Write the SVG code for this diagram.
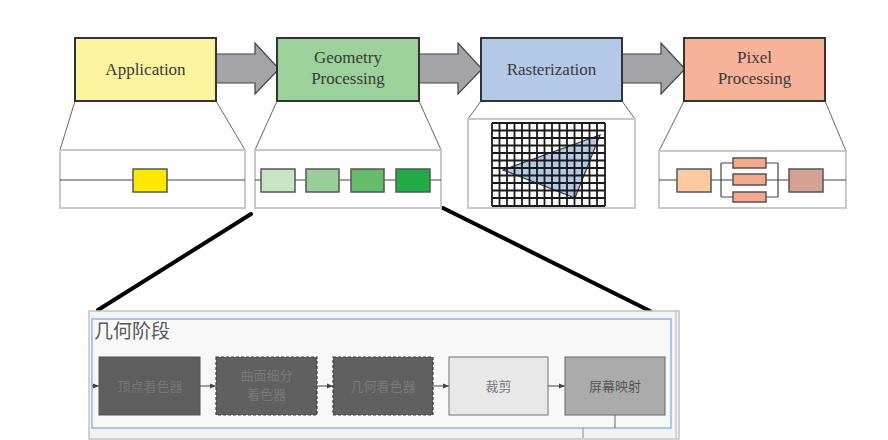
<svg xmlns="http://www.w3.org/2000/svg" width="888" height="440" viewBox="0 0 888 440">
<defs>
<style>
.stage{stroke:#333;stroke-width:2}
.lbl{font-family:"Liberation Serif","DejaVu Serif",serif;font-size:17px;fill:#3a3a3a;text-anchor:middle}
.trap{fill:#fff;stroke:#666;stroke-width:1}
.sub{fill:#fff;stroke:#c8c8c8;stroke-width:2}
.wire{stroke:#444;stroke-width:1.2;fill:none}
.blk{stroke:#555;stroke-width:1.5}
.big{fill:#a4a4a8;stroke:#444;stroke-width:1.2}
.zoom{stroke:#000;stroke-width:4;stroke-linecap:round}
.cn{font-family:"Noto Sans CJK SC","Noto Sans",sans-serif;font-size:13px;text-anchor:middle}
.gb{stroke:#555;stroke-width:1}
.ga{stroke:#444;stroke-width:1;fill:none}
</style>
<marker id="ah" viewBox="0 0 10 10" refX="10" refY="5" markerWidth="6" markerHeight="6" orient="auto"><path d="M0,1 L10,5 L0,9 z" fill="#444"/></marker>
</defs>
<rect width="888" height="440" fill="#fff"/>

<g id="connectors">
<path class="big" d="M216,54 H255 V43 L279,69 L255,94 V83 H216 Z"/>
<path class="big" d="M419,54 H458 V43 L482,69 L458,94 V83 H419 Z"/>
<path class="big" d="M622,54 H661 V43 L685,69 L661,94 V83 H622 Z"/>
<line class="zoom" x1="251" y1="214" x2="98" y2="310"/>
<line class="zoom" x1="443" y1="208" x2="650" y2="311"/>
</g>

<g id="application">
<path class="trap" d="M75,101 L60,150 H245 L216,101 Z"/>
<rect class="sub" x="60" y="150" width="185" height="58"/>
<line class="wire" x1="60" y1="180" x2="245" y2="180"/>
<rect class="blk" x="133" y="169" width="34" height="23" fill="#ffe800"/>
<rect class="stage" x="75" y="38" width="141" height="63" fill="#fdf4a0"/>
<text class="lbl" x="145.5" y="75">Application</text>
</g>

<g id="geometry">
<path class="trap" d="M277,101 L255,150 H441 L419,101 Z"/>
<rect class="sub" x="255" y="150" width="186" height="58"/>
<line class="wire" x1="255" y1="180" x2="441" y2="180"/>
<rect class="blk" x="261" y="169" width="34" height="23" fill="#c8e6c6"/>
<rect class="blk" x="306" y="169" width="33" height="23" fill="#98cf98"/>
<rect class="blk" x="351" y="169" width="33" height="23" fill="#66bb6a"/>
<rect class="blk" x="396" y="169" width="34" height="23" fill="#22ac48"/>
<rect class="stage" x="277" y="38" width="142" height="63" fill="#9dd19b"/>
<text class="lbl" x="348" y="63">Geometry</text>
<text class="lbl" x="348" y="84">Processing</text>
</g>

<g id="rasterization">
<path class="trap" d="M481,101 L468,119 H635 L622,101 Z"/>
<rect class="sub" x="468" y="119" width="167" height="89"/>
<polygon points="503,170 600,135 575,198" fill="#b4c8e8" stroke="#333" stroke-width="1.2"/>
<g stroke="#1a1a1a" stroke-width="1.8" fill="none">
<path d="M492,123 V206 M499.5,123 V206 M507,123 V206 M514.5,123 V206 M522,123 V206 M529.5,123 V206 M537,123 V206 M544.5,123 V206 M552,123 V206 M559.5,123 V206 M567,123 V206 M574.5,123 V206 M582,123 V206 M589.5,123 V206 M597,123 V206 M605,123 V206"/>
<path d="M492,123 H605 M492,130.5 H605 M492,138 H605 M492,145.5 H605 M492,153 H605 M492,160.5 H605 M492,168 H605 M492,175.5 H605 M492,183 H605 M492,190.5 H605 M492,198 H605 M492,206 H605"/>
</g>
<rect class="stage" x="481" y="38" width="141" height="63" fill="#b4c8e8"/>
<text class="lbl" x="551.5" y="75">Rasterization</text>
</g>

<g id="pixel">
<path class="trap" d="M684,101 L659,151 H846 L825,101 Z"/>
<rect class="sub" x="659" y="151" width="187" height="57"/>
<path class="wire" d="M659,180 H846 M721,163 V197 M778,163 V197 M721,163 H733 M721,197 H733 M766,163 H778 M766,197 H778"/>
<rect class="blk" x="677" y="169" width="34" height="23" fill="#fdc9a0"/>
<rect class="blk" x="733" y="158" width="33" height="10" fill="#f4a88c"/>
<rect class="blk" x="733" y="174" width="33" height="11" fill="#f4a88c"/>
<rect class="blk" x="733" y="192" width="33" height="10" fill="#f4a88c"/>
<rect class="blk" x="789" y="169" width="34" height="23" fill="#d4a292"/>
<rect class="stage" x="684" y="38" width="141" height="63" fill="#f7b29a"/>
<text class="lbl" x="754.5" y="63">Pixel</text>
<text class="lbl" x="754.5" y="84">Processing</text>
</g>

<g id="geometry-stage-detail">
<rect x="89" y="311" width="590" height="128" fill="#f3f3f3" stroke="#c4c4c4" stroke-width="1.5"/>
<line x1="676" y1="311" x2="676" y2="439" stroke="#b8b8b8" stroke-width="1"/>
<rect x="92" y="319" width="579" height="109" fill="#f8f8f8" stroke="#a9c8ef" stroke-width="2"/>
<text x="94" y="338" font-family="'Noto Sans CJK SC','Noto Sans',sans-serif" font-size="19" fill="#585858">几何阶段</text>
<line class="ga" x1="92" y1="386" x2="99" y2="386" marker-end="url(#ah)"/>
<line class="ga" x1="200" y1="386" x2="216" y2="386" marker-end="url(#ah)"/>
<line class="ga" x1="317" y1="386" x2="333" y2="386" marker-end="url(#ah)"/>
<line class="ga" x1="433" y1="386" x2="449" y2="386" marker-end="url(#ah)"/>
<line class="ga" x1="548" y1="386" x2="565" y2="386" marker-end="url(#ah)"/>
<line x1="615" y1="415" x2="615" y2="428" stroke="#666" stroke-width="1"/>
<line x1="583" y1="428" x2="583" y2="438" stroke="#888" stroke-width="1"/>
<g id="vertex-shader">
<rect class="gb" x="99" y="357" width="101" height="58" fill="#5e5e5e"/>
<text class="cn" x="150" y="391" fill="#777">顶点着色器</text>
</g>
<g id="tessellation">
<rect x="216" y="357" width="101" height="58" fill="#606060" stroke="#3e3e3e" stroke-width="1.2" stroke-dasharray="3,2"/>
<text class="cn" x="266.5" y="380" fill="#7a7a7a">曲面细分</text>
<text class="cn" x="266.5" y="399" fill="#7a7a7a">着色器</text>
</g>
<g id="geometry-shader">
<rect x="333" y="357" width="100" height="58" fill="#606060" stroke="#3e3e3e" stroke-width="1.2" stroke-dasharray="3,2"/>
<text class="cn" x="383" y="391" fill="#7a7a7a">几何着色器</text>
</g>
<g id="clipping">
<rect x="449" y="357" width="99" height="58" fill="#e8e8e8" stroke="#707070" stroke-width="1"/>
<text class="cn" x="498.5" y="391" fill="#777">裁剪</text>
</g>
<g id="screen-mapping">
<rect x="565" y="357" width="100" height="58" fill="#ababab" stroke="#666" stroke-width="1"/>
<text class="cn" x="615" y="391" fill="#555">屏幕映射</text>
</g>
</g>
</svg>
